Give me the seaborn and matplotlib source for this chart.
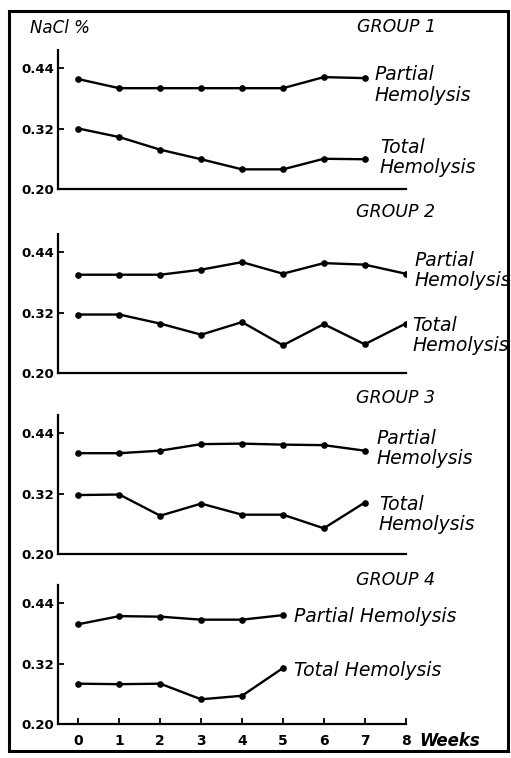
import matplotlib
matplotlib.use("Agg")
import matplotlib.pyplot as plt
import seaborn as sns
import pandas as pd
from matplotlib.patches import Rectangle

# ---- data ----
weeks = [0, 1, 2, 3, 4, 5, 6, 7, 8]
week_labels = ["0", "1", "2", "3", "4", "5", "6", "7", "8"]
y_ticks = [0.20, 0.32, 0.44]
y_tick_labels = ["0.20", "0.32", "0.44"]
groups = ["GROUP 1", "GROUP 2", "GROUP 3", "GROUP 4"]

g1_partial = [0.418, 0.40, 0.40, 0.40, 0.40, 0.40, 0.422, 0.42]
g1_total = [0.32, 0.303, 0.278, 0.259, 0.239, 0.239, 0.26, 0.259]
g2_partial = [0.395, 0.395, 0.395, 0.405, 0.42, 0.397, 0.418, 0.415, 0.397]
g2_total = [0.316, 0.316, 0.298, 0.276, 0.301, 0.255, 0.297, 0.257, 0.298]
g3_partial = [0.40, 0.40, 0.405, 0.418, 0.419, 0.417, 0.416, 0.405]
g3_total = [0.317, 0.318, 0.276, 0.30, 0.278, 0.278, 0.251, 0.302]
g4_partial = [0.398, 0.414, 0.413, 0.407, 0.407, 0.416]
g4_total = [0.28, 0.279, 0.28, 0.249, 0.256, 0.311]

partial_series = [g1_partial, g2_partial, g3_partial, g4_partial]
total_series = [g1_total, g2_total, g3_total, g4_total]

partial_labels = ["Partial\nHemolysis", "Partial\nHemolysis", "Partial\nHemolysis", "Partial Hemolysis"]
total_labels = ["Total\nHemolysis", "Total\nHemolysis", "Total\nHemolysis", "Total Hemolysis"]

sns.set_style("white")
plt.rcParams["font.family"] = ["DejaVu Sans"]
for k in ("text.color", "axes.labelcolor", "xtick.color", "ytick.color", "axes.edgecolor"):
    plt.rcParams[k] = "black"

W, H = 511, 758
fig = plt.figure(figsize=(W / 100, H / 100), dpi=100)
fig.patch.set_facecolor("white")

# axes layout in pixels
left_px, width_px = 58, 347.6
bottoms_px = [189, 373, 554, 724]
height_px = 138.6

# label offsets in pixels (dx, dy) relative to last point
partial_off = [(10, -7), (9, 3), (12, 2), (11, -1)]
total_off = [(15, 2), (7, -12), (14, -12), (11, -2)]
title_px = [(357, 27), (356, 212), (356, 398), (356, 580)]

for i in range(4):
    ax = fig.add_axes([left_px / W, 1 - bottoms_px[i] / H, width_px / W, height_px / H])
    p = partial_series[i]
    t = total_series[i]
    dfp = pd.DataFrame({"week": weeks[:len(p)], "nacl": p})
    dft = pd.DataFrame({"week": weeks[:len(t)], "nacl": t})
    for df in (dfp, dft):
        sns.lineplot(data=df, x="week", y="nacl", ax=ax, color="black", linewidth=1.7,
                     marker="o", markersize=4.8, markeredgewidth=0, markerfacecolor="black")
    ax.set_xlim(-0.5, 8.0)
    ax.set_ylim(0.20, 0.475)
    ax.set_xlabel("")
    ax.set_ylabel("")
    sns.despine(ax=ax)
    for s in ("left", "bottom"):
        ax.spines[s].set_linewidth(1.6)
        ax.spines[s].set_color("black")
    ax.set_yticks(y_ticks)
    ax.set_yticklabels(y_tick_labels, fontsize=9.5, fontweight="bold")
    ax.tick_params(axis="y", direction="in", length=4, width=1.3, pad=3, left=True)
    if i == 3:
        ax.set_xticks(weeks)
        ax.set_xticklabels(week_labels, fontsize=10, fontweight="bold")
        ax.tick_params(axis="x", direction="in", length=4, width=1.3, pad=7, bottom=True)
    else:
        ax.set_xticks([])
    ax.patch.set_alpha(0)

    ax.annotate(partial_labels[i], xy=(len(p) - 1, p[-1]), xytext=partial_off[i],
                textcoords="offset pixels", ha="left", va="center", fontsize=13.5,
                style="italic", linespacing=1.1, color="black")
    ax.annotate(total_labels[i], xy=(len(t) - 1, t[-1]), xytext=total_off[i],
                textcoords="offset pixels", ha="left", va="center", fontsize=13.5,
                style="italic", linespacing=1.1, color="black")
    tx, ty = title_px[i]
    fig.text(tx / W, 1 - ty / H, groups[i], fontsize=12.5, style="italic",
             ha="left", va="center", color="black")

fig.text(30 / W, 1 - 28 / H, "NaCl %", fontsize=12, style="italic", ha="left", va="center",
         color="black")
fig.text(419 / W, 1 - 741 / H, "Weeks", fontsize=12, style="italic", fontweight="bold",
         ha="left", va="center", color="black")

fig.patches.append(Rectangle((9 / W, 1 - 751 / H), (508 - 9) / W, (751 - 11) / H,
                             transform=fig.transFigure, fill=False, edgecolor="black",
                             linewidth=2.2))

fig.savefig("out.png", dpi=100, facecolor="white")
